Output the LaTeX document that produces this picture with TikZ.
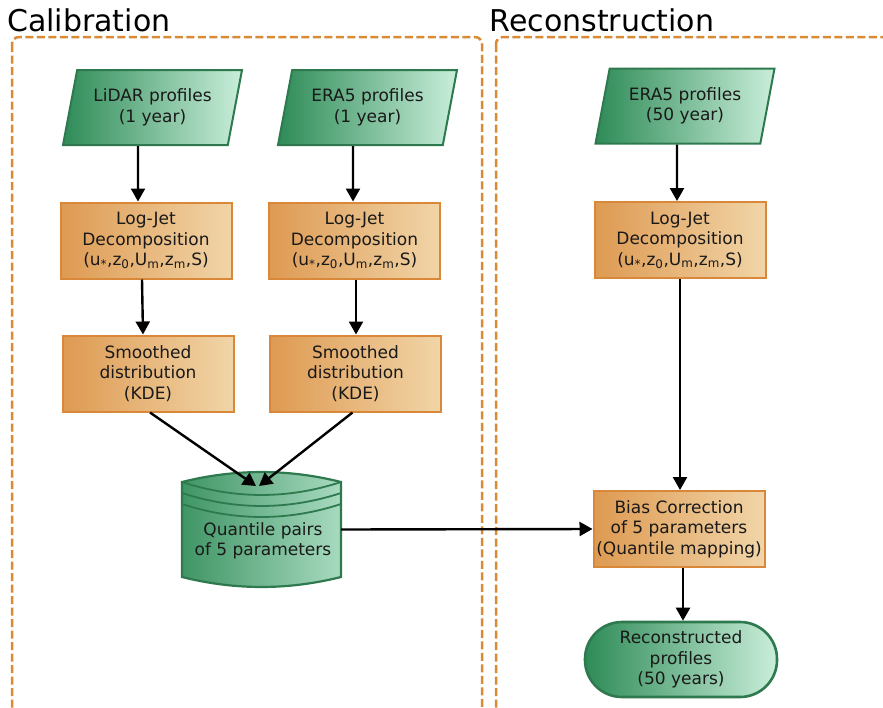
\documentclass[tikz,border=0pt]{standalone}
\usepackage{fontspec}
\setmainfont{DejaVu Sans}
\usetikzlibrary{shapes.geometric,arrows.meta,calc}
\definecolor{gdark}{HTML}{2E8B57}
\definecolor{glight}{HTML}{C9EEDA}
\definecolor{gcyl}{HTML}{A8DAC0}
\definecolor{gcylL}{HTML}{3F9565}
\definecolor{gborder}{HTML}{2E7A4E}
\definecolor{odark}{HTML}{DE9A52}
\definecolor{olight}{HTML}{F1D5A8}
\definecolor{oborder}{HTML}{D9883A}
\definecolor{dashc}{HTML}{D98A35}
\tikzset{
  txt/.style={font=\fontsize{17}{20.5}\selectfont, align=center, text=black!90},
  dataio/.style={txt, trapezium, trapezium left angle=69, trapezium right angle=111,
    trapezium stretches body=true, minimum width=179pt, minimum height=75pt, inner sep=0pt,
    left color=gdark, right color=glight, draw=gborder, line width=2pt},
  procbox/.style={txt, rectangle, minimum width=171pt, minimum height=76pt, inner sep=0pt,
    left color=odark, right color=olight, draw=oborder, line width=2pt},
  termbox/.style={txt, rectangle, rounded corners=37pt, minimum width=192pt, minimum height=75pt,
    inner sep=0pt, left color=gdark, right color=glight, draw=gborder, line width=2.6pt},
  region/.style={draw=dashc, line width=2.5pt, dash pattern=on 8pt off 3.5pt, rounded corners=7pt},
  conn/.style={draw=black, line width=2.4pt, -{Triangle[length=13pt,width=14pt]}},
  title/.style={font=\fontsize{30}{35}\selectfont, inner sep=0pt, anchor=base west}
}
\begin{document}
\begin{tikzpicture}[x=1pt,y=-1pt]
\clip (0,0) rectangle (883,707);
\fill[white] (0,0) rectangle (883,707);

% regions
\draw[region] (12,37) rectangle (482,730);
\draw[region] (496,37) rectangle (910,730);
\node[title] (caltitle) at (7,31) {Calibration};
\node[title] (rectitle) at (489.5,31) {Reconstruction};

% data inputs
\node[dataio] (lidar) at (152.5,107.5) {LiDAR profiles\\(1 year)};
\node[dataio] (era1) at (367.5,107.5) {ERA5 profiles\\(1 year)};
\node[dataio] (era50) at (685,106) {ERA5 profiles\\(50 year)};

% decomposition
\node[procbox] (lj1) at (146,240.5) {Log-Jet\\Decomposition\\(u\textsubscript{*},z\textsubscript{0},U\textsubscript{m},z\textsubscript{m},S)};
\node[procbox] (lj2) at (354.5,240.5) {Log-Jet\\Decomposition\\(u\textsubscript{*},z\textsubscript{0},U\textsubscript{m},z\textsubscript{m},S)};
\node[procbox] (lj3) at (680,240) {Log-Jet\\Decomposition\\(u\textsubscript{*},z\textsubscript{0},U\textsubscript{m},z\textsubscript{m},S)};

% smoothed
\node[procbox] (sm1) at (148,373.5) {Smoothed\\distribution\\(KDE)};
\node[procbox] (sm2) at (355.5,373.5) {Smoothed\\distribution\\(KDE)};

% cylinder (data store)
\path[draw=gborder, line width=2.2pt, left color=gcylL, right color=gcyl]
  (182,482) .. controls (235,468.7) and (288,468.7) .. (341,482)
  -- (341,577) .. controls (288,590.3) and (235,590.3) .. (182,577) -- cycle;
\draw[gborder, line width=1.8pt] (182,482) .. controls (235,499.3) and (288,499.3) .. (341,482);
\draw[gborder, line width=1.8pt] (182,493) .. controls (235,510.3) and (288,510.3) .. (341,493);
\draw[gborder, line width=1.8pt] (182,504) .. controls (235,521.3) and (288,521.3) .. (341,504);
\node[minimum width=159pt, minimum height=115pt, inner sep=0pt] (qp) at (261.5,529.5) {};
\node[txt] (qpt) at (263,541) {Quantile pairs\\of 5 parameters};
\coordinate (qin) at (257.5,486);

% bias correction and result
\node[procbox] (bias) at (679,529) {Bias Correction\\of 5 parameters\\(Quantile mapping)};
\node[termbox] (rec) at (681,659.5) {Reconstructed\\profiles\\(50 years)};

% connectors
\draw[conn] ([xshift=-14.5pt]lidar.south) -- ([xshift=-8pt]lj1.north);
\draw[conn] ([xshift=-14.5pt]era1.south) -- ([xshift=-1.5pt]lj2.north);
\draw[conn] ([xshift=-8pt]era50.south) -- ([xshift=-3pt]lj3.north);
\draw[conn] ([xshift=-4pt]lj1.south) -- ([xshift=-5pt]sm1.north);
\draw[conn] ([xshift=1.5pt]lj2.south) -- ([xshift=0.5pt]sm2.north);
\draw[conn] ([xshift=2pt]sm1.south) -- ($(qin)+(-1.5,0)$);
\draw[conn] ([xshift=-3pt]sm2.south) -- ($(qin)+(1.5,0)$);
\draw[conn] (lj3.south) -- (lj3.south |- bias.north);
\draw[conn] (qp.east) -- (bias.west);
\draw[conn] ([xshift=4pt]bias.south) -- ([xshift=2pt]rec.north);
\end{tikzpicture}
\end{document}
